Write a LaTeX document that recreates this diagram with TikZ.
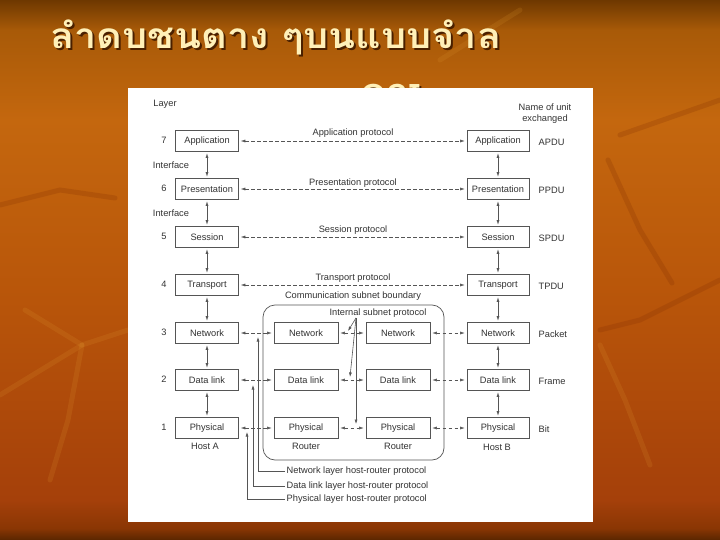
\documentclass[tikz,border=0pt]{standalone}
\usepackage{fontspec}
\newfontfamily\lsans{Liberation Sans}
\newfontfamily\thaifont[Script=Thai]{Loma}
\usetikzlibrary{arrows.meta}
\definecolor{bgA}{HTML}{5A2600}
\definecolor{bgB}{HTML}{8A3604}
\definecolor{bgC}{HTML}{A5400A}
\definecolor{bgD}{HTML}{B8550A}
\definecolor{bgE}{HTML}{C4670E}
\definecolor{bgF}{HTML}{A85A08}
\definecolor{bgG}{HTML}{6E3800}
\definecolor{titlec}{HTML}{FFF0B8}
\definecolor{shadowc}{HTML}{4A2000}
\definecolor{linec}{HTML}{555555}
\definecolor{textc}{HTML}{333333}
\definecolor{leafL}{HTML}{E09A30}
\definecolor{leafD}{HTML}{7A2800}
\pgfdeclareverticalshading{bgsh}{100bp}{color(0bp)=(bgA); color(25bp)=(bgA); color(26.1bp)=(bgB); color(28.7bp)=(bgC); color(47.2bp)=(bgD); color(63.9bp)=(bgE); color(72.2bp)=(bgF); color(75bp)=(bgG); color(100bp)=(bgG)}
\newcommand\lblfont{\lsans\fontsize{9.3}{10}\selectfont}
\newcommand\titlefont{\thaifont\bfseries\fontsize{34}{40}\selectfont}
\newcommand\titletext{\scalebox{1.17}[1.04]{ลำดบชนตาง ๆบนแบบจำล}}
\begin{document}
\begin{tikzpicture}[x=1bp,y=-1bp,
  lbl/.style={font=\lblfont, text=textc, inner sep=1.5bp},
  box/.style={draw=linec, line width=0.6bp, fill=white, minimum width=63bp, minimum height=21bp, inner sep=0pt, font=\lblfont, text=textc},
  proto/.style={draw=linec, line width=0.5bp, dash pattern=on 3.5bp off 2.5bp, {Latex[length=4.5bp,width=3bp]}-{Latex[length=4.5bp,width=3bp]}, shorten <=2bp, shorten >=2bp},
  vert/.style={draw=linec, line width=0.6bp, {Latex[length=4.5bp,width=3bp]}-{Latex[length=4.5bp,width=3bp]}, shorten <=1.5bp, shorten >=1.5bp},
  uparr/.style={draw=linec, line width=0.6bp, -{Latex[length=4.5bp,width=3bp]}},
  leaflight/.style={draw=leafL, line width=5bp, opacity=0.16, line cap=round},
  leafdark/.style={draw=leafD, line width=5bp, opacity=0.2, line cap=round}]
\useasboundingbox (0,0) rectangle (720,540);
\shade[shading=bgsh] (0,0) rectangle (720,540);
% faint leaf veins in the background
\draw[leaflight] (25,310) -- (82,345) -- (128,330);
\draw[leaflight] (82,345) -- (68,420) -- (50,480);
\draw[leaflight] (0,395) -- (82,345);
\draw[leafdark] (0,205) -- (60,190) -- (115,198);
\draw[leafdark] (608,160) -- (640,230) -- (672,283);
\draw[leafdark] (600,330) -- (640,320) -- (720,280);
\draw[leaflight] (600,345) -- (625,400) -- (650,465);
\draw[leafdark] (620,135) -- (720,100);
\draw[leaflight] (440,60) -- (520,10);
% title
\node[anchor=base west, text=shadowc, font=\titlefont, inner sep=0pt] at (52,51) {\titletext};
\node[anchor=base west, text=titlec, font=\titlefont, inner sep=0pt] (title) at (50,49) {\titletext};
\node[anchor=base, text=shadowc, font=\titlefont] at (392,111) {OSI};
\node[anchor=base, text=titlec, font=\titlefont] (osi) at (390,109) {OSI};
% white panel
\fill[white] (128,88) rectangle (593,522);
% subnet boundary
\draw[linec, line width=0.7bp, rounded corners=12bp] (263,305) rectangle (444,460);
% headings
\node[lbl] (layerh) at (165,104) {Layer};
\node[lbl] (unith1) at (545,107) {Name of unit};
\node[lbl] (unith2) at (545,119) {exchanged};
% host A
\node[box] (a7) at (207,141) {Application};
\node[box] (a6) at (207,189) {Presentation};
\node[box] (a5) at (207,237) {Session};
\node[box] (a4) at (207,285) {Transport};
\node[box] (a3) at (207,333) {Network};
\node[box] (a2) at (207,380) {Data link};
\node[box] (a1) at (207,428) {Physical};
% host B
\node[box, minimum width=62bp] (b7) at (498,141) {Application};
\node[box, minimum width=62bp] (b6) at (498,189) {Presentation};
\node[box, minimum width=62bp] (b5) at (498,237) {Session};
\node[box, minimum width=62bp] (b4) at (498,285) {Transport};
\node[box, minimum width=62bp] (b3) at (498,333) {Network};
\node[box, minimum width=62bp] (b2) at (498,380) {Data link};
\node[box, minimum width=62bp] (b1) at (498,428) {Physical};
% routers
\node[box, minimum width=64bp] (r1n) at (306,333) {Network};
\node[box, minimum width=64bp] (r1d) at (306,380) {Data link};
\node[box, minimum width=64bp] (r1p) at (306,428) {Physical};
\node[box, minimum width=64bp] (r2n) at (398,333) {Network};
\node[box, minimum width=64bp] (r2d) at (398,380) {Data link};
\node[box, minimum width=64bp] (r2p) at (398,428) {Physical};
% layer numbers
\node[lbl] (n7) at (164,140) {7};
\node[lbl] (n6) at (164,188) {6};
\node[lbl] (n5) at (164,236) {5};
\node[lbl] (n4) at (164,284) {4};
\node[lbl] (n3) at (164,332) {3};
\node[lbl] (n2) at (164,379) {2};
\node[lbl] (n1) at (164,427) {1};
\node[lbl] (if1) at (171,165) {Interface};
\node[lbl] (if2) at (171,213) {Interface};
% units
\node[lbl, anchor=west] (u7) at (537,142) {APDU};
\node[lbl, anchor=west] (u6) at (537,190) {PPDU};
\node[lbl, anchor=west] (u5) at (537,238) {SPDU};
\node[lbl, anchor=west] (u4) at (537,286) {TPDU};
\node[lbl, anchor=west] (u3) at (537,334) {Packet};
\node[lbl, anchor=west] (u2) at (537,381) {Frame};
\node[lbl, anchor=west] (u1) at (537,429) {Bit};
% host and router captions
\node[lbl] (hA) at (205,446) {Host A};
\node[lbl] (hB) at (497,447) {Host B};
\node[lbl] (rt1) at (306,446) {Router};
\node[lbl] (rt2) at (398,446) {Router};
% protocol labels
\node[lbl] (p7) at (353,133) {Application protocol};
\node[lbl] (p6) at (353,183) {Presentation protocol};
\node[lbl] (p5) at (353,230) {Session protocol};
\node[lbl] (p4) at (353,278) {Transport protocol};
\node[lbl] (csb) at (353,296) {Communication subnet boundary};
\node[lbl] (isp) at (378,313) {Internal subnet protocol};
% peer protocols
\draw[proto] (a7) -- (b7);
\draw[proto] (a6) -- (b6);
\draw[proto] (a5) -- (b5);
\draw[proto] (a4) -- (b4);
\draw[proto] (a3) -- (r1n);
\draw[proto] (r1n) -- (r2n);
\draw[proto] (r2n) -- (b3);
\draw[proto] (a2) -- (r1d);
\draw[proto] (r1d) -- (r2d);
\draw[proto] (r2d) -- (b2);
\draw[proto] (a1) -- (r1p);
\draw[proto] (r1p) -- (r2p);
\draw[proto] (r2p) -- (b1);
% interfaces
\foreach \u/\l in {a7/a6,a6/a5,a5/a4,a4/a3,a3/a2,a2/a1,b7/b6,b6/b5,b5/b4,b4/b3,b3/b2,b2/b1}
  \draw[vert] (\u) -- (\l);
% internal subnet protocol pointers
\coordinate (ispo) at (356,318);
\coordinate (ispN) at (348,331);
\coordinate (ispD) at (350,377);
\coordinate (ispP) at (356,424);
\draw[uparr] (ispo) -- (ispN);
\draw[uparr] (ispo) -- (ispD);
\draw[uparr] (ispo) -- (ispP);
% host-router protocols
\node[lbl, anchor=west] (hrN) at (285,471) {Network layer host-router protocol};
\node[lbl, anchor=west] (hrD) at (285,486) {Data link layer host-router protocol};
\node[lbl, anchor=west] (hrP) at (285,499) {Physical layer host-router protocol};
\coordinate (tipN) at (258,337);
\coordinate (tipD) at (253,385);
\coordinate (tipP) at (247,432);
\draw[uparr] (hrN.west) -| (tipN);
\draw[uparr] (hrD.west) -| (tipD);
\draw[uparr] (hrP.west) -| (tipP);
\end{tikzpicture}
\end{document}
